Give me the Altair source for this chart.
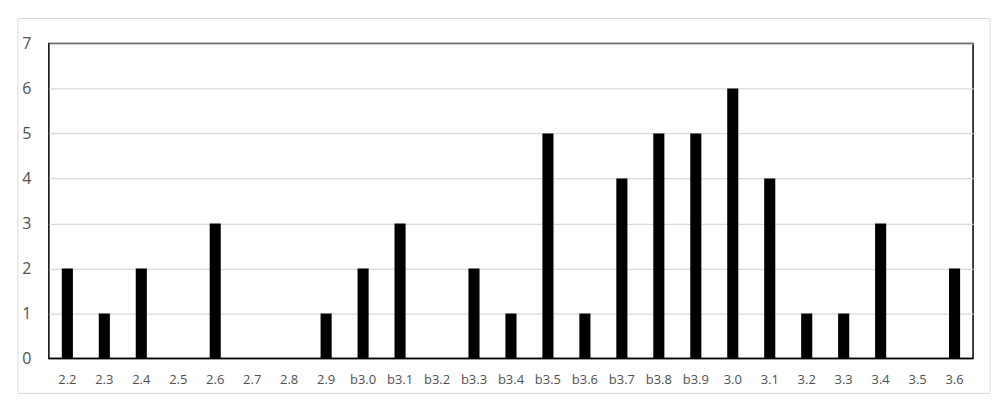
import altair as alt
import pandas as pd

categories = ["2.2", "2.3", "2.4", "2.5", "2.6", "2.7", "2.8", "2.9",
              "b3.0", "b3.1", "b3.2", "b3.3", "b3.4", "b3.5", "b3.6",
              "b3.7", "b3.8", "b3.9", "3.0", "3.1", "3.2", "3.3", "3.4",
              "3.5", "3.6"]
counts = [2, 1, 2, 0, 3, 0, 0, 1, 2, 3, 0, 2, 1, 5, 1, 4, 5, 5, 6, 4, 1, 1, 3, 0, 2]
y_ticks = [0, 1, 2, 3, 4, 5, 6, 7]

df = pd.DataFrame({"cat": categories, "count": counts})

W, H = 927, 316

bars = alt.Chart(df).mark_bar(color="black").encode(
    x=alt.X("cat:N", sort=categories, title=None,
            scale=alt.Scale(paddingInner=0.7, paddingOuter=0.35),
            axis=alt.Axis(labelAngle=0, ticks=False, domain=False,
                          labelFontSize=13, labelColor="#505050",
                          labelPadding=15, labelFont="Open Sans")),
    y=alt.Y("count:Q", title=None,
            scale=alt.Scale(domain=[0, 7], nice=False),
            axis=alt.Axis(values=y_ticks, ticks=False, domain=False,
                          labelFontSize=16, labelColor="#505050",
                          labelPadding=18, labelFont="Open Sans",
                          gridColor="#d9d9d9", gridWidth=1.2)),
)

zero_line = alt.Chart(pd.DataFrame({"z": [0]})).mark_rule(
    color="black", strokeWidth=1.5
).encode(y="z:Q")

frame = alt.Chart(pd.DataFrame({"a": [0]})).mark_rect(
    fill="transparent", stroke="#d9d9d9", strokeWidth=1, clip=False
).encode(
    x=alt.value(-31), x2=alt.value(W + 17),
    y=alt.value(-25), y2=alt.value(H + 35),
)

chart = alt.layer(frame, bars, zero_line).properties(
    width=W, height=H,
    autosize=alt.AutoSizeParams(type="none"),
    padding={"left": 41, "top": 35, "right": 18, "bottom": 36},
    background="white",
).configure_view(
    stroke="black", strokeWidth=1.5
)

chart.save("out.html", embed_options={"renderer": "svg", "actions": False})
